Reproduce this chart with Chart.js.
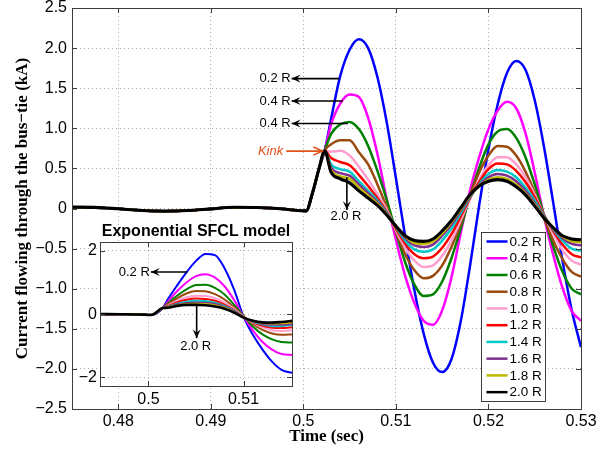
<!DOCTYPE html>
<html>
<head>
<meta charset="utf-8">
<script src="https://cdn.jsdelivr.net/npm/chart.js@4.4.0/dist/chart.umd.min.js"></script>
<style>
  html, body { margin: 0; padding: 0; background: #fff; }
  #wrap { position: relative; width: 610px; height: 451px; }
  #main { position: absolute; left: 0; top: 0; }
  #inset { position: absolute; left: 40px; top: 215px; }
</style>
</head>
<body>
<div id="wrap">
  <canvas id="main" width="610" height="451"></canvas>
  <canvas id="inset" width="260" height="200"></canvas>
</div>
<script>
// ---- data ----
const seriesLabels = ["0.2 R", "0.4 R", "0.6 R", "0.8 R", "1.0 R", "1.2 R", "1.4 R", "1.6 R", "1.8 R", "2.0 R"];
const seriesColors = ["#0000ff", "#ff00ff", "#008000", "#9b4a0f", "#ff9fcf", "#ff0000", "#00c8c8", "#7e2f8e", "#bfb800", "#000000"];

const timeTicks = [0.48, 0.49, 0.5, 0.51, 0.52, 0.53];
const currentTicks = [-2.5, -2, -1.5, -1, -0.5, 0, 0.5, 1, 1.5, 2, 2.5];
const insetTimeTicks = [0.5, 0.51];
const insetCurrentTicks = [-2, 0, 2];

// common part before the fault (all cases overlap)
const preTime = [0.475, 0.4775, 0.48, 0.4825, 0.485, 0.4875, 0.49, 0.4925, 0.495, 0.4975, 0.4998, 0.5003, 0.501, 0.5017, 0.5023];
const preCurrent = [0.017, 0.014, -0.004, -0.025, -0.033, -0.025, -0.005, 0.015, 0.012, -0.004, -0.028, -0.030, 0.20, 0.50, 0.72];

const postTime = [0.503, 0.504, 0.505, 0.506, 0.507, 0.508, 0.509, 0.510, 0.511, 0.512, 0.513, 0.514, 0.515, 0.516,
  0.517, 0.518, 0.519, 0.520, 0.521, 0.522, 0.523, 0.524, 0.525, 0.526, 0.527, 0.528, 0.529, 0.530];
const r02 = [1.12, 1.66, 1.98, 2.11, 2.00, 1.64, 1.08, 0.38, -0.35, -1.02, -1.56, -1.92, -2.04, -1.88, -1.41, -0.72, 0.04, 0.74, 1.30, 1.69, 1.84, 1.73, 1.35, 0.77, 0.07, -0.65, -1.27, -1.73];
const r04 = [1.05, 1.31, 1.42, 1.39, 1.13, 0.68, 0.12, -0.39, -0.84, -1.18, -1.40, -1.45, -1.27, -0.86, -0.31, 0.22, 0.64, 0.99, 1.22, 1.33, 1.25, 0.94, 0.45, -0.10, -0.58, -0.99, -1.28, -1.40];
const r06 = [0.93, 1.05, 1.08, 0.99, 0.78, 0.47, 0.11, -0.29, -0.67, -0.95, -1.09, -1.07, -0.91, -0.62, -0.25, 0.15, 0.51, 0.80, 0.96, 0.99, 0.88, 0.64, 0.30, -0.08, -0.47, -0.79, -1.00, -1.07];
const r08 = [0.80, 0.85, 0.85, 0.70, 0.55, 0.30, 0.02, -0.29, -0.57, -0.77, -0.87, -0.84, -0.71, -0.48, -0.19, 0.16, 0.45, 0.66, 0.78, 0.77, 0.66, 0.46, 0.20, -0.12, -0.40, -0.63, -0.79, -0.85];
const r10 = [0.71, 0.72, 0.66, 0.52, 0.36, 0.18, -0.01, -0.27, -0.49, -0.65, -0.73, -0.71, -0.59, -0.40, -0.15, 0.12, 0.36, 0.54, 0.64, 0.64, 0.55, 0.39, 0.17, -0.08, -0.32, -0.52, -0.65, -0.70];
const r12 = [0.63, 0.58, 0.54, 0.42, 0.28, 0.13, -0.04, -0.25, -0.44, -0.57, -0.62, -0.60, -0.49, -0.32, -0.10, 0.13, 0.33, 0.49, 0.56, 0.55, 0.47, 0.33, 0.14, -0.08, -0.28, -0.45, -0.57, -0.61];
const r14 = [0.55, 0.49, 0.46, 0.34, 0.22, 0.10, -0.05, -0.23, -0.40, -0.51, -0.54, -0.51, -0.40, -0.25, -0.06, 0.14, 0.30, 0.43, 0.48, 0.46, 0.39, 0.26, 0.10, -0.09, -0.26, -0.40, -0.50, -0.525];
const r16 = [0.51, 0.44, 0.41, 0.30, 0.19, 0.08, -0.06, -0.22, -0.37, -0.46, -0.48, -0.45, -0.34, -0.20, -0.03, 0.15, 0.29, 0.39, 0.43, 0.41, 0.34, 0.22, 0.07, -0.10, -0.25, -0.37, -0.44, -0.46];
const r18 = [0.48, 0.40, 0.37, 0.26, 0.16, 0.06, -0.07, -0.22, -0.35, -0.43, -0.44, -0.41, -0.31, -0.17, -0.01, 0.16, 0.28, 0.36, 0.39, 0.37, 0.30, 0.19, 0.05, -0.11, -0.24, -0.35, -0.41, -0.42];
const r20 = [0.45, 0.37, 0.32, 0.22, 0.13, 0.04, -0.08, -0.22, -0.34, -0.40, -0.41, -0.38, -0.28, -0.15, 0.01, 0.17, 0.28, 0.34, 0.36, 0.34, 0.27, 0.17, 0.03, -0.12, -0.24, -0.34, -0.38, -0.39];
const mainSeries = [r02, r04, r06, r08, r10, r12, r14, r16, r18, r20];

// inset: exponential SFCL model
const insetPreTime = [0.4949, 0.497, 0.499, 0.5003, 0.5015];
const insetPreCurrent = [0.0, -0.005, -0.012, -0.025, 0.19];
const insetTime = [0.502, 0.503, 0.504, 0.505, 0.506, 0.507, 0.508, 0.509, 0.510, 0.511, 0.512, 0.513, 0.514, 0.5152];
const e02 = [0.45, 0.90, 1.32, 1.68, 1.90, 1.86, 1.45, 0.78, -0.08, -0.66, -1.12, -1.50, -1.76, -1.86];
const e04 = [0.38, 0.72, 1.00, 1.20, 1.26, 1.15, 0.88, 0.45, -0.08, -0.52, -0.88, -1.12, -1.26, -1.29];
const e06 = [0.33, 0.58, 0.78, 0.92, 0.93, 0.83, 0.62, 0.30, -0.06, -0.40, -0.64, -0.80, -0.88, -0.90];
const e08 = [0.30, 0.50, 0.65, 0.73, 0.72, 0.63, 0.46, 0.22, -0.07, -0.32, -0.50, -0.61, -0.65, -0.64];
const e10 = [0.27, 0.42, 0.53, 0.58, 0.57, 0.50, 0.36, 0.17, -0.08, -0.28, -0.42, -0.51, -0.53, -0.51];
const e12 = [0.25, 0.37, 0.45, 0.49, 0.48, 0.42, 0.30, 0.13, -0.09, -0.26, -0.37, -0.43, -0.44, -0.41];
const e14 = [0.23, 0.33, 0.39, 0.42, 0.41, 0.36, 0.26, 0.11, -0.10, -0.24, -0.33, -0.38, -0.38, -0.34];
const e16 = [0.22, 0.30, 0.35, 0.37, 0.36, 0.32, 0.23, 0.09, -0.10, -0.23, -0.31, -0.34, -0.34, -0.31];
const e18 = [0.21, 0.28, 0.32, 0.33, 0.32, 0.28, 0.20, 0.07, -0.11, -0.22, -0.28, -0.30, -0.29, -0.26];
const e20 = [0.20, 0.26, 0.29, 0.29, 0.28, 0.24, 0.17, 0.05, -0.11, -0.21, -0.26, -0.27, -0.25, -0.21];
const insetSeries = [e02, e04, e06, e08, e10, e12, e14, e16, e18, e20];

// annotations, in data units (time, kA)
const mainArrows = [
  { text: "0.2 R", from: [0.5039, 1.62], to: [0.49873, 1.62] },
  { text: "0.4 R", from: [0.50427, 1.34], to: [0.49873, 1.34] },
  { text: "0.4 R", from: [0.50481, 1.06], to: [0.49873, 1.06] }
];
const kinkNote = { text: "Kink", from: [0.49815, 0.716], to: [0.50205, 0.716] };
const mainDown = { text: "2.0 R", from: [0.5047, 0.39], to: [0.5047, -0.02], at: [0.5046, -0.10] };
const insetLeft = { text: "0.2 R", from: [0.5041, 1.33], to: [0.50025, 1.33] };
const insetDown = { text: "2.0 R", from: [0.50507, 0.29], to: [0.50507, -0.76], at: [0.50497, -1.02] };

// ---- helpers ----
function points(t1, v1, t2, v2) {
  return t1.map(function (t, i) { return { x: t, y: v1[i] }; })
    .concat(t2.map(function (t, i) { return { x: t, y: v2[i] }; }));
}

function makeDatasets(preT, preV, t, list, width) {
  return list.map(function (vals, i) {
    return {
      label: seriesLabels[i],
      data: points(preT, preV, t, vals),
      borderColor: seriesColors[i],
      borderWidth: i === 9 ? width + 0.6 : width,
      pointRadius: 0,
      cubicInterpolationMode: "monotone",
      order: 9 - i
    };
  });
}

function minus(s) { return s.replace("-", "\u2212"); }

function arrowHead(ctx, x1, y1, x2, y2, size, open) {
  var a = Math.atan2(y2 - y1, x2 - x1);
  var c = Math.cos(a), s = Math.sin(a);
  var bx = x2 - c * size, by = y2 - s * size;
  var w = size * 0.45;
  ctx.beginPath();
  if (open) {
    ctx.moveTo(bx - s * w, by + c * w);
    ctx.lineTo(x2, y2);
    ctx.lineTo(bx + s * w, by - c * w);
    ctx.stroke();
  } else {
    ctx.moveTo(x2, y2);
    ctx.lineTo(bx - s * w, by + c * w);
    ctx.lineTo(x2 - c * size * 0.6, y2 - s * size * 0.6);
    ctx.lineTo(bx + s * w, by - c * w);
    ctx.closePath();
    ctx.fill();
  }
}

function drawArrow(chart, note, color, open) {
  var ctx = chart.ctx, x = chart.scales.x, y = chart.scales.y;
  var x1 = x.getPixelForValue(note.from[0]), y1 = y.getPixelForValue(note.from[1]);
  var x2 = x.getPixelForValue(note.to[0]), y2 = y.getPixelForValue(note.to[1]);
  ctx.save();
  ctx.strokeStyle = color;
  ctx.fillStyle = color;
  ctx.lineWidth = 1.6;
  ctx.beginPath();
  ctx.moveTo(x1, y1);
  ctx.lineTo(x2, y2);
  ctx.stroke();
  arrowHead(ctx, x1, y1, x2, y2, 9, open);
  ctx.restore();
  return { x1: x1, y1: y1, x2: x2, y2: y2 };
}

function label(ctx, text, px, py, align, font, color) {
  ctx.save();
  ctx.font = font;
  ctx.fillStyle = color || "#000";
  ctx.textAlign = align;
  ctx.textBaseline = "middle";
  ctx.fillText(text, px, py);
  ctx.restore();
}

// box with inward tick marks, like matlab axes
const framePlugin = {
  id: "frame",
  afterDatasetsDraw: function (chart) {
    var ctx = chart.ctx, a = chart.chartArea, x = chart.scales.x, y = chart.scales.y;
    ctx.save();
    ctx.strokeStyle = "#3c3c3c";
    ctx.lineWidth = 1;
    ctx.strokeRect(Math.round(a.left) + 0.5, Math.round(a.top) + 0.5, Math.round(a.right - a.left), Math.round(a.bottom - a.top));
    ctx.beginPath();
    x.ticks.forEach(function (t) {
      var px = Math.round(x.getPixelForValue(t.value)) + 0.5;
      ctx.moveTo(px, a.bottom); ctx.lineTo(px, a.bottom - 5);
      ctx.moveTo(px, a.top); ctx.lineTo(px, a.top + 5);
    });
    y.ticks.forEach(function (t) {
      var py = Math.round(y.getPixelForValue(t.value)) + 0.5;
      ctx.moveTo(a.left, py); ctx.lineTo(a.left + 5, py);
      ctx.moveTo(a.right, py); ctx.lineTo(a.right - 5, py);
    });
    ctx.stroke();
    ctx.restore();
  }
};

const mainNotes = {
  id: "mainNotes",
  afterDraw: function (chart) {
    var ctx = chart.ctx, x = chart.scales.x, y = chart.scales.y;
    var f = '13px "Liberation Sans", Arial, sans-serif';
    mainArrows.forEach(function (n) {
      var p = drawArrow(chart, n, "#000", false);
      label(ctx, n.text, p.x2 - 1, p.y2, "right", f);
    });
    var k = drawArrow(chart, kinkNote, "#e0501c", true);
    label(ctx, kinkNote.text, k.x1 - 3, k.y1, "right", 'italic 13px "Liberation Sans", Arial, sans-serif', "#e0501c");
    drawArrow(chart, mainDown, "#000", false);
    label(ctx, mainDown.text, x.getPixelForValue(mainDown.at[0]), y.getPixelForValue(mainDown.at[1]), "center", f);

    // legend box
    var a = chart.chartArea;
    var left = Math.round(a.right - 100), top = Math.round(a.bottom - 177);
    ctx.save();
    ctx.fillStyle = "#fff";
    ctx.fillRect(left, top, 64, 169);
    ctx.strokeStyle = "#3c3c3c";
    ctx.lineWidth = 1;
    ctx.strokeRect(left + 0.5, top + 0.5, 64, 169);
    chart.data.datasets.forEach(function (ds, i) {
      var yy = top + 9.5 + i * 16.74;
      ctx.strokeStyle = ds.borderColor;
      ctx.lineWidth = 2.5;
      ctx.beginPath();
      ctx.moveTo(left + 5.5, yy);
      ctx.lineTo(left + 26.5, yy);
      ctx.stroke();
      label(ctx, ds.label, left + 28.5, yy + 0.5, "left", '13.5px "Liberation Sans", Arial, sans-serif');
    });
    ctx.restore();
  }
};

const insetNotes = {
  id: "insetNotes",
  beforeDraw: function (chart) {
    var a = chart.chartArea, ctx = chart.ctx;
    ctx.save();
    ctx.fillStyle = "#fff";
    ctx.fillRect(a.left, a.top, a.right - a.left, a.bottom - a.top);
    ctx.restore();
  },
  afterDraw: function (chart) {
    var ctx = chart.ctx, x = chart.scales.x, y = chart.scales.y;
    var f = '13px "Liberation Sans", Arial, sans-serif';
    var p = drawArrow(chart, insetLeft, "#000", false);
    label(ctx, insetLeft.text, p.x2 - 1, p.y2, "right", f);
    drawArrow(chart, insetDown, "#000", false);
    label(ctx, insetDown.text, x.getPixelForValue(insetDown.at[0]), y.getPixelForValue(insetDown.at[1]), "center", f);
  }
};

function axis(opts) {
  return Object.assign({
    type: "linear",
    grid: { color: "rgba(0,0,0,0.32)", lineWidth: 1, drawTicks: false },
    border: { display: false, dash: [1, 3] }
  }, opts);
}

var tickFont = { family: "'Liberation Sans', Arial, sans-serif", size: 16 };
var titleFont = { family: "'Liberation Serif', 'Times New Roman', serif", size: 17, weight: "bold" };

// ---- main chart ----
new Chart(document.getElementById("main"), {
  type: "line",
  data: { datasets: makeDatasets(preTime, preCurrent, postTime, mainSeries, 2.5) },
  options: {
    responsive: false,
    animation: false,
    layout: { padding: { left: 0, right: 29, top: 8, bottom: 0 } },
    plugins: { legend: { display: false }, tooltip: { enabled: false } },
    scales: {
      x: axis({
        min: 0.475, max: 0.53,
        afterBuildTicks: function (s) { s.ticks = timeTicks.map(function (v) { return { value: v }; }); },
        afterFit: function (s) { s.height = 42; s.paddingLeft = 0; s.paddingRight = 0; },
        ticks: { autoSkip: false, maxRotation: 0, padding: 3, color: "#000", font: tickFont,
          callback: function (v) { return String(Number(v.toFixed(3))); } },
        title: { display: true, text: "Time (sec)", color: "#000", font: titleFont, padding: { top: 0, bottom: 4 } }
      }),
      y: axis({
        min: -2.5, max: 2.5,
        afterBuildTicks: function (s) { s.ticks = currentTicks.map(function (v) { return { value: v }; }); },
        afterFit: function (s) { s.width = 72; s.paddingTop = 0; s.paddingBottom = 0; },
        ticks: { autoSkip: false, padding: 5, color: "#000", font: tickFont,
          callback: function (v) { return v === 0 ? "0" : minus(v.toFixed(1)); } },
        title: { display: true, text: "Current flowing through the bus\u2212tie (kA)", color: "#000", font: titleFont, padding: { top: 12, bottom: 0 } }
      })
    }
  },
  plugins: [framePlugin, mainNotes]
});

// ---- inset ----
new Chart(document.getElementById("inset"), {
  type: "line",
  data: { datasets: makeDatasets(insetPreTime, insetPreCurrent, insetTime, insetSeries, 2) },
  options: {
    responsive: false,
    animation: false,
    layout: { padding: { left: 0, right: 8, top: 0, bottom: 0 } },
    plugins: {
      legend: { display: false },
      tooltip: { enabled: false },
      title: { display: true, fullSize: false, text: "Exponential SFCL model", color: "#000",
        font: { family: "'Liberation Sans', Arial, sans-serif", size: 16, weight: "bold" }, padding: { top: 7, bottom: 1 } }
    },
    scales: {
      x: axis({
        min: 0.4949, max: 0.5151,
        afterBuildTicks: function (s) { s.ticks = insetTimeTicks.map(function (v) { return { value: v }; }); },
        afterFit: function (s) { s.height = 29; s.paddingLeft = 0; s.paddingRight = 0; },
        ticks: { autoSkip: false, maxRotation: 0, padding: 4, color: "#000", font: tickFont,
          callback: function (v) { return String(Number(v.toFixed(3))); } }
      }),
      y: axis({
        min: -2.27, max: 2.27,
        afterBuildTicks: function (s) { s.ticks = insetCurrentTicks.map(function (v) { return { value: v }; }); },
        afterFit: function (s) { s.width = 60; s.paddingTop = 0; s.paddingBottom = 0; },
        ticks: { autoSkip: false, padding: 3, color: "#000", font: tickFont,
          callback: function (v) { return v === 0 ? "0" : minus(String(v)); } }
      })
    }
  },
  plugins: [insetNotes, framePlugin]
});
</script>
</body>
</html>
